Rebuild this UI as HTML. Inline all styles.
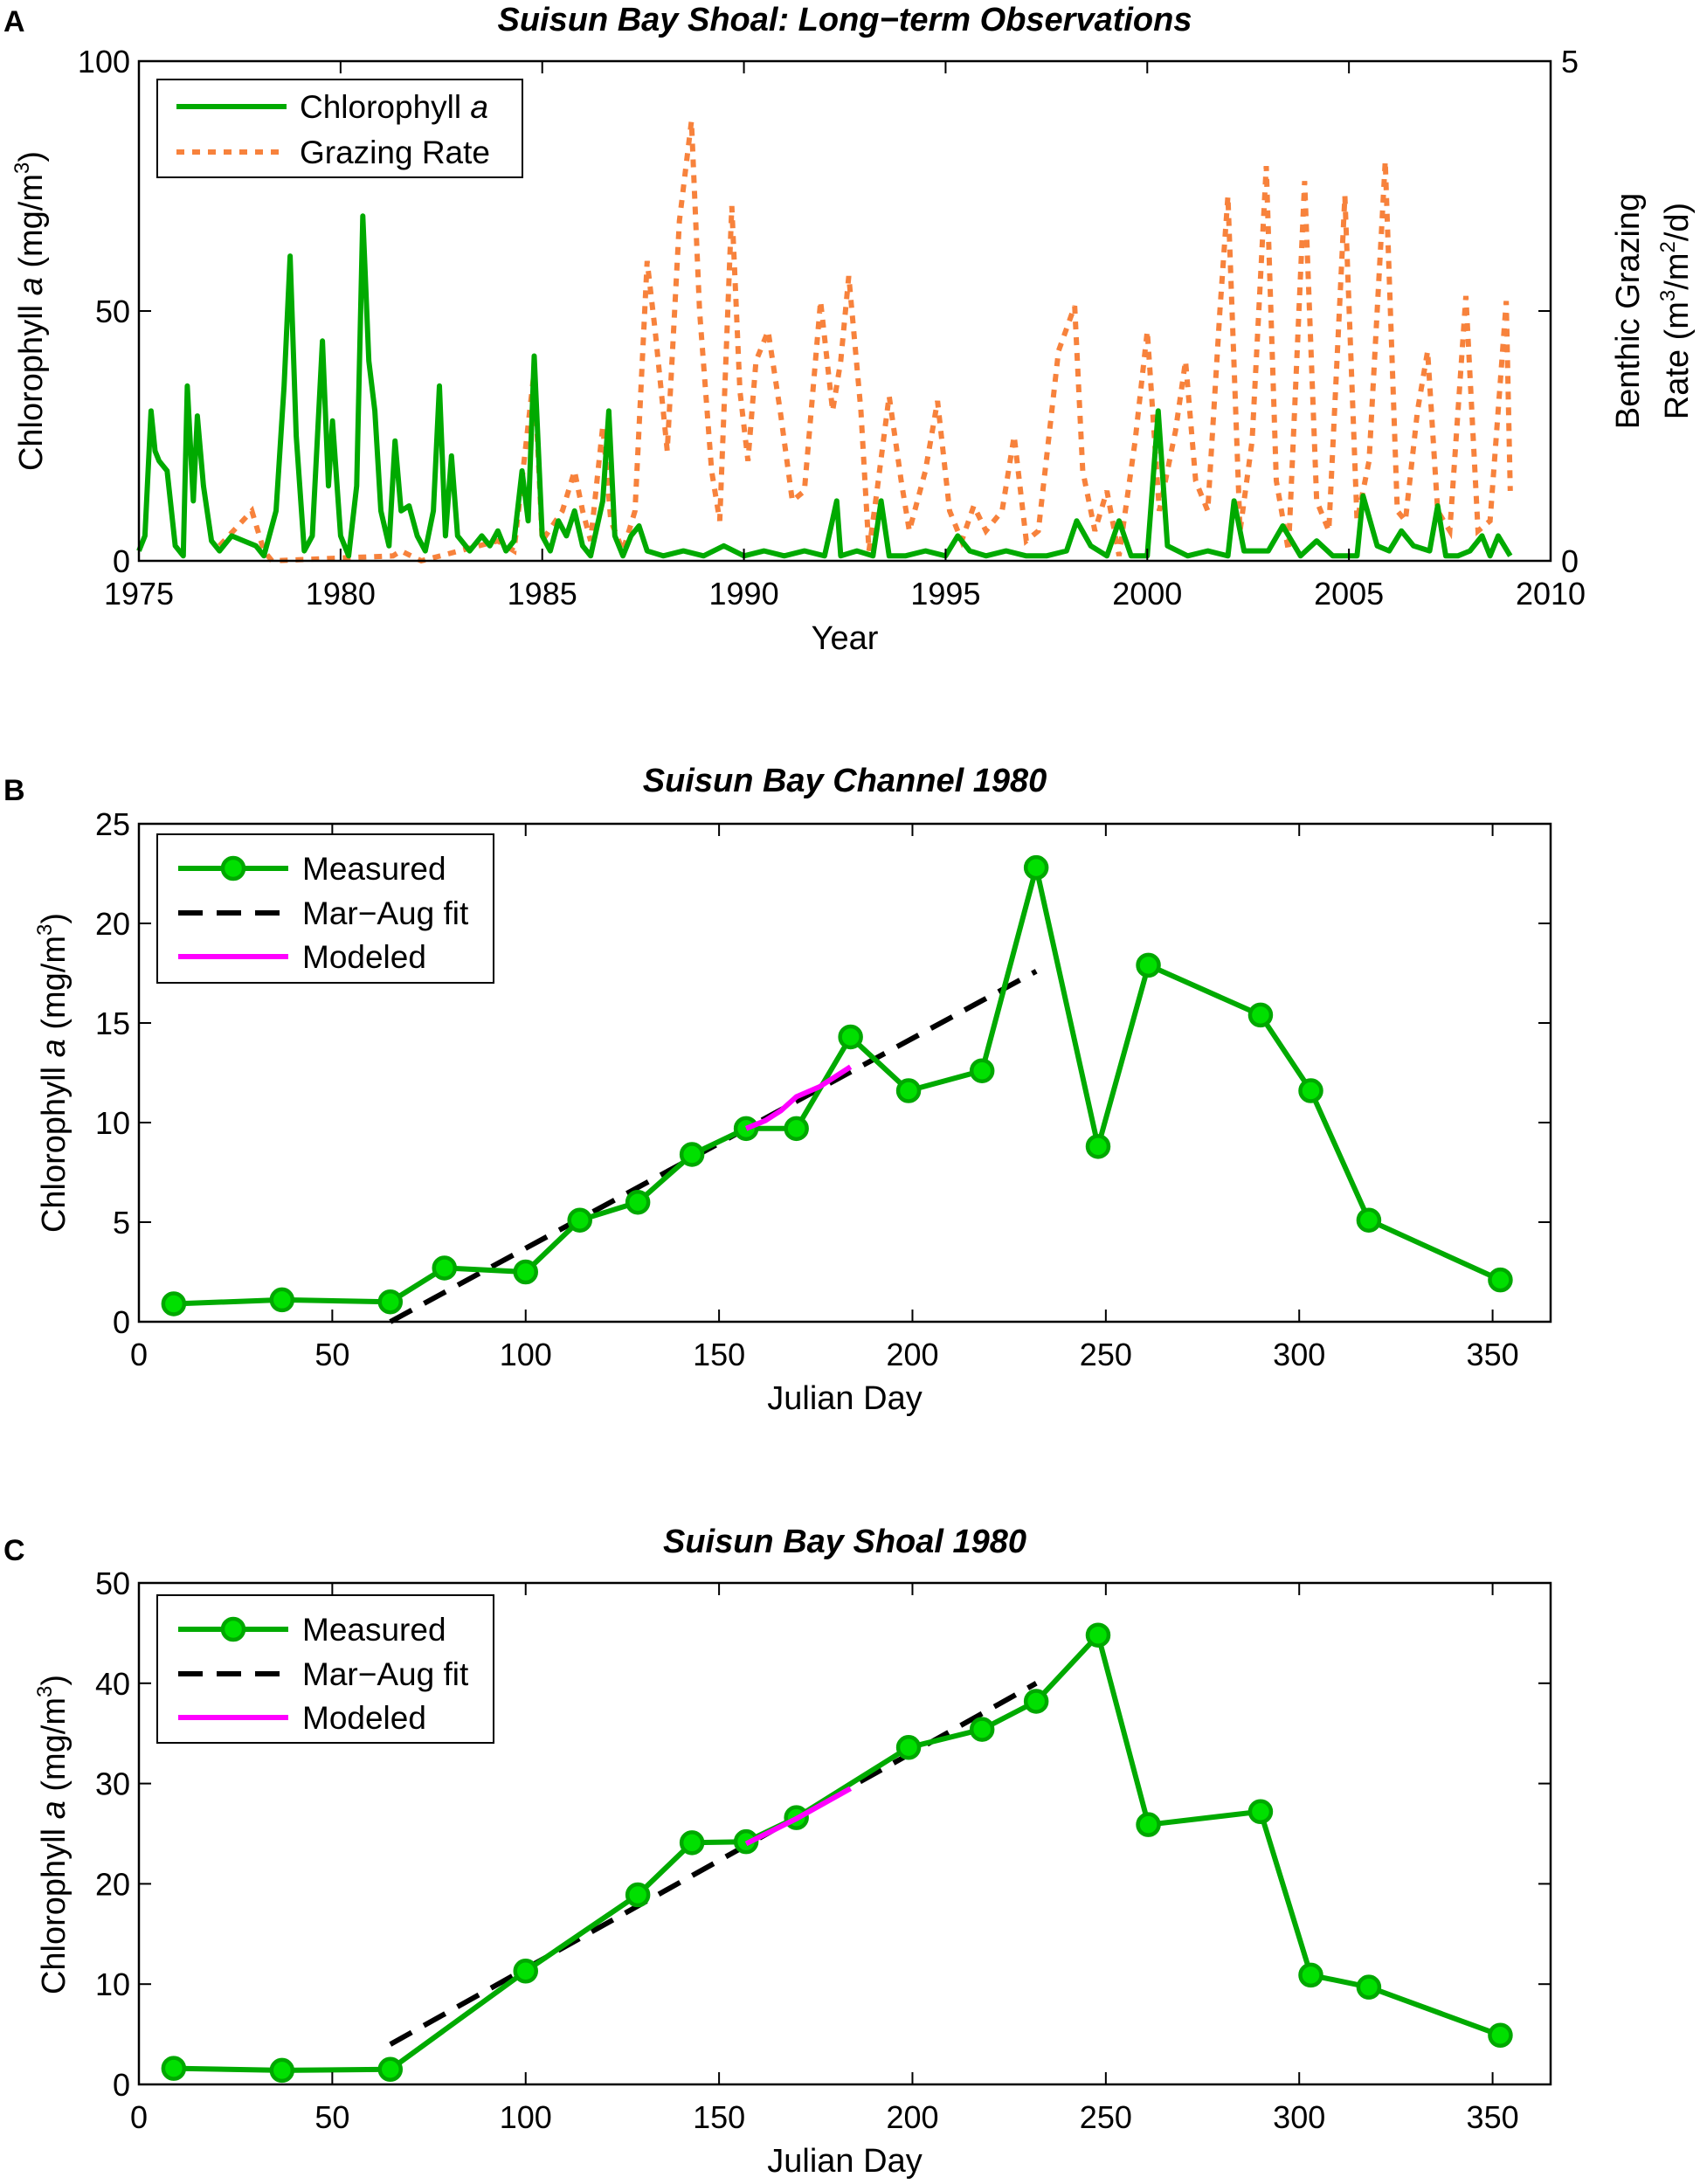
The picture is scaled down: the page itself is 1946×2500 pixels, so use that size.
<!DOCTYPE html>
<html><head><meta charset="utf-8"><style>
body{margin:0;background:#fff}
svg{display:block;font-family:"Liberation Sans",sans-serif}
</style></head><body>
<svg id="fig" width="1946" height="2500" viewBox="0 0 1946 2500"></svg>
<script>
// ---------- Panel A data ----------
const chlYears=[1975.0,1975.15,1975.3,1975.4,1975.5,1975.7,1975.9,1976.1,1976.2,1976.35,1976.45,1976.6,1976.8,1977.0,1977.3,1977.6,1977.9,1978.1,1978.4,1978.6,1978.75,1978.9,1979.1,1979.3,1979.55,1979.7,1979.8,1980.0,1980.2,1980.4,1980.55,1980.7,1980.85,1981.0,1981.2,1981.35,1981.5,1981.7,1981.9,1982.1,1982.3,1982.45,1982.6,1982.75,1982.9,1983.2,1983.5,1983.7,1983.9,1984.1,1984.3,1984.5,1984.65,1984.8,1985.0,1985.2,1985.4,1985.6,1985.8,1986.0,1986.2,1986.5,1986.65,1986.8,1987.0,1987.2,1987.4,1987.6,1988.0,1988.5,1989.0,1989.5,1990.0,1990.5,1991.0,1991.5,1992.0,1992.3,1992.4,1992.8,1993.2,1993.4,1993.6,1994.0,1994.5,1995.0,1995.3,1995.6,1996.0,1996.5,1997.0,1997.5,1998.0,1998.25,1998.6,1999.0,1999.3,1999.6,2000.0,2000.27,2000.5,2001.0,2001.5,2002.0,2002.15,2002.4,2003.0,2003.36,2003.8,2004.2,2004.6,2005.2,2005.35,2005.7,2006.0,2006.3,2006.6,2007.0,2007.2,2007.4,2007.7,2008.0,2008.3,2008.5,2008.7,2009.0];
const chlVals=[2,5,30,22,20,18,3,1,35,12,29,15,4,2,5,4,3,1,10,35,61,25,2,5,44,15,28,5,1,15,69,40,30,10,3,24,10,11,5,2,10,35,5,21,5,2,5,3,6,2,4,18,8,41,5,2,8,5,10,3,1,12,30,5,1,5,7,2,1,2,1,3,1,2,1,2,1,12,1,2,1,12,1,1,2,1,5,2,1,2,1,1,2,8,3,1,8,1,1,30,3,1,2,1,12,2,2,7,1,4,1,1,13,3,2,6,3,2,11,1,1,2,5,1,5,1];
const grzYears=[1977.0,1977.8,1978.1,1978.3,1981.3,1981.5,1982.0,1983.9,1984.3,1984.8,1985.0,1985.5,1985.8,1986.0,1986.2,1986.5,1986.7,1987.0,1987.3,1987.6,1987.8,1988.1,1988.4,1988.7,1988.9,1989.2,1989.4,1989.7,1989.9,1990.1,1990.3,1990.6,1990.9,1991.2,1991.5,1991.9,1992.2,1992.4,1992.6,1992.9,1993.1,1993.3,1993.6,1993.9,1994.1,1994.5,1994.8,1995.1,1995.4,1995.7,1996.0,1996.4,1996.7,1997.0,1997.3,1997.8,1998.2,1998.4,1998.7,1999.0,1999.3,1999.7,2000.0,2000.3,2000.7,2000.95,2001.2,2001.5,2001.8,2002.0,2002.3,2002.6,2002.95,2003.2,2003.5,2003.9,2004.2,2004.5,2004.9,2005.2,2005.5,2005.9,2006.2,2006.4,2006.7,2006.95,2007.2,2007.5,2007.9,2008.2,2008.5,2008.9,2009.0];
const grzVals=[0.15,0.5,0.1,0,0.05,0.1,0,0.2,0.1,1.9,0.2,0.5,0.9,0.5,0.2,1.35,0.4,0.1,0.5,3.0,2.3,1.1,3.4,4.4,2.5,0.9,0.4,3.55,1.7,1.0,2.0,2.3,1.5,0.6,0.7,2.6,1.5,2.0,2.85,1.5,0.1,0.7,1.65,0.8,0.3,0.9,1.6,0.5,0.2,0.55,0.3,0.5,1.25,0.2,0.3,2.1,2.55,0.9,0.3,0.7,0.05,1.2,2.3,0.5,1.3,2.0,0.8,0.5,2.5,3.65,0.3,1.2,3.95,0.8,0.1,3.8,0.6,0.3,3.65,0.4,1.0,4.0,0.5,0.4,1.5,2.1,0.5,0.3,2.65,0.3,0.4,2.6,0.7];
const aXTicks=[1975,1980,1985,1990,1995,2000,2005,2010];
const aYTicks=[0,50,100];
const aY2Labels=["0","","5"];
// ---------- Panel B data ----------
const bDays=[9,37,65,79,100,114,129,143,157,170,184,199,218,232,248,261,290,303,318,352];
const bVals=[0.9,1.1,1.0,2.7,2.5,5.1,6.0,8.4,9.7,9.7,14.3,11.6,12.6,22.8,8.8,17.9,15.4,11.6,5.1,2.1];
const bFitDays=[65,232];
const bFitVals=[0,17.6];
const bModDays=[157,162,166,170,176,184];
const bModVals=[9.7,10.1,10.6,11.3,11.8,12.8];
const bYTicks=[0,5,10,15,20,25];
// ---------- Panel C data ----------
const cDays=[9,37,65,100,129,143,157,170,199,218,232,248,261,290,303,318,352];
const cVals=[1.6,1.4,1.5,11.3,18.9,24.1,24.2,26.6,33.6,35.4,38.2,44.8,25.9,27.2,10.9,9.7,4.9];
const cFitDays=[65,232];
const cFitVals=[4,40];
const cModDays=[157,170,184];
const cModVals=[24,26.5,29.5];
const cYTicks=[0,10,20,30,40,50];
const dayTicks=[0,50,100,150,200,250,300,350];

const NS="http://www.w3.org/2000/svg";
const svg=document.getElementById('fig');
function mk(tag,attrs,parent,text){const e=document.createElementNS(NS,tag);for(const k in attrs)e.setAttribute(k,attrs[k]);if(text!==undefined)e.textContent=text;(parent||svg).appendChild(e);return e;}
const L=159,R=1775;
function scale(d0,d1,r0,r1){return v=>r0+(v-d0)/(d1-d0)*(r1-r0);}

function axesBox(g,top,bot,name){
  const r=mk('rect',{x:L,y:top,width:R-L,height:bot-top,fill:'none',stroke:'#000','stroke-width':2.5},g);
  
  
}
function xTicks(g,ticks,xs,top,bot,name){
  const gg=mk('g',{},g);
  
  
  ticks.forEach(t=>{const x=xs(t);
    mk('line',{x1:x,x2:x,y1:bot,y2:bot-14,stroke:'#000','stroke-width':2},gg);
    mk('line',{x1:x,x2:x,y1:top,y2:top+14,stroke:'#000','stroke-width':2},gg);
    const tx=mk('text',{x:x,y:bot+50,'font-size':36,'text-anchor':'middle'},gg,String(t));
    
    
  });
}
function yTicks(g,ticks,ys,rightLabels,name){
  const gg=mk('g',{},g);
  
  
  ticks.forEach((t,i)=>{const y=ys(t);
    mk('line',{x1:L,x2:L+14,y1:y,y2:y,stroke:'#000','stroke-width':2},gg);
    mk('line',{x1:R,x2:R-14,y1:y,y2:y,stroke:'#000','stroke-width':2},gg);
    const tx=mk('text',{x:L-10,y:y+13,'font-size':36,'text-anchor':'end'},gg,String(t));
    
    
    if(rightLabels&&rightLabels[i]){
      const t2=mk('text',{x:R+12,y:y+13,'font-size':36,'text-anchor':'start'},gg,rightLabels[i]);
      
      
    }
  });
}
function pathD(xsArr,ysArr,xs,ys){return xsArr.map((v,i)=>(i?'L':'M')+xs(v).toFixed(1)+','+ys(ysArr[i]).toFixed(1)).join(' ');}

// ===== Panel A =====
(function(){
  const top=70,bot=642;
  const g=mk('g',{});
  
  
  const xs=scale(1975,2010,L,R), ys=scale(0,100,bot,top), ys2=scale(0,5,bot,top);
  const gp=mk('path',{d:pathD(grzYears,grzVals,xs,ys2),fill:'none',stroke:'#f7823c','stroke-width':6,'stroke-dasharray':'9 9'},g);
  
  
  const cp=mk('path',{d:pathD(chlYears,chlVals,xs,ys),fill:'none',stroke:'#00aa00','stroke-width':6,'stroke-linejoin':'round'},g);
  
  
  axesBox(g,top,bot,'axes-a');
  xTicks(g,aXTicks,xs,top,bot,'x-axis-a');
  yTicks(g,aYTicks,ys,aY2Labels,'y-axis-a');
})();

// ===== Panels B & C =====
function panelBC(id,top,bot,ymax,yticks,days,vals,fd,fv,md,mv){
  const g=mk('g',{});
  
  
  const xs=scale(0,365,L,R), ys=scale(0,ymax,bot,top);
  const fit=mk('path',{d:pathD(fd,fv,xs,ys),fill:'none',stroke:'#000','stroke-width':6,'stroke-dasharray':'28 16'},g);
  
  
  const ml=mk('path',{d:pathD(days,vals,xs,ys),fill:'none',stroke:'#00aa00','stroke-width':6,'stroke-linejoin':'round'},g);
  
  
  days.forEach((d,i)=>{
    const c=mk('circle',{cx:xs(d),cy:ys(vals[i]),r:12,fill:'#00e000',stroke:'#00a800','stroke-width':4.5},g);
    
    
  });
  const mo=mk('path',{d:pathD(md,mv,xs,ys),fill:'none',stroke:'#ff00ff','stroke-width':6},g);
  
  
  axesBox(g,top,bot,'axes-'+id);
  xTicks(g,dayTicks,xs,top,bot,'x-axis-'+id);
  yTicks(g,yticks,ys,null,'y-axis-'+id);
}
panelBC('panel-b',943,1513,25,bYTicks,bDays,bVals,bFitDays,bFitVals,bModDays,bModVals);
panelBC('panel-c',1812,2386,50,cYTicks,cDays,cVals,cFitDays,cFitVals,cModDays,cModVals);
</script>
<svg width="1946" height="2500" viewBox="0 0 1946 2500" style="position:absolute;left:0;top:0" font-family="Liberation Sans, sans-serif">
  <text x="4" y="36" font-size="34" font-weight="bold">A</text>
  <text x="967" y="35" font-size="38" font-weight="bold" font-style="italic" text-anchor="middle">Suisun Bay Shoal: Long−term Observations</text>
  <text x="4" y="916" font-size="34" font-weight="bold">B</text>
  <text x="967" y="906" font-size="38" font-weight="bold" font-style="italic" text-anchor="middle">Suisun Bay Channel 1980</text>
  <text x="4" y="1786" font-size="34" font-weight="bold">C</text>
  <text x="967" y="1777" font-size="38" font-weight="bold" font-style="italic" text-anchor="middle">Suisun Bay Shoal 1980</text>
  <text x="967" y="743" font-size="38" text-anchor="middle">Year</text>
  <text x="967" y="1613" font-size="38" text-anchor="middle">Julian Day</text>
  <text x="967" y="2486" font-size="38" text-anchor="middle">Julian Day</text>
  <text transform="translate(48,356) rotate(-90)" font-size="38" text-anchor="middle">Chlorophyll <tspan font-style="italic">a</tspan> (mg/m<tspan font-size="24" dy="-15">3</tspan><tspan dy="15">)</tspan></text>
  <text transform="translate(74,1228) rotate(-90)" font-size="38" text-anchor="middle">Chlorophyll <tspan font-style="italic">a</tspan> (mg/m<tspan font-size="24" dy="-15">3</tspan><tspan dy="15">)</tspan></text>
  <text transform="translate(74,2100) rotate(-90)" font-size="38" text-anchor="middle">Chlorophyll <tspan font-style="italic">a</tspan> (mg/m<tspan font-size="24" dy="-15">3</tspan><tspan dy="15">)</tspan></text>
  <text transform="translate(1876,356) rotate(-90)" font-size="38" text-anchor="middle">Benthic Grazing</text>
  <text transform="translate(1932,356) rotate(-90)" font-size="38" text-anchor="middle">Rate (m<tspan font-size="24" dy="-15">3</tspan><tspan dy="15">/m</tspan><tspan font-size="24" dy="-15">2</tspan><tspan dy="15">/d)</tspan></text>
  <g>
    <rect x="180" y="91" width="418" height="112" fill="#fff" stroke="#000" stroke-width="2"/>
    <g>
      <line x1="202" x2="328" y1="122" y2="122" stroke="#00aa00" stroke-width="6"/>
      <text x="343" y="135" font-size="37">Chlorophyll <tspan font-style="italic">a</tspan></text>
    </g>
    <g>
      <line x1="202" x2="328" y1="174" y2="174" stroke="#f7823c" stroke-width="6" stroke-dasharray="9 9"/>
      <text x="343" y="187" font-size="37">Grazing Rate</text>
    </g>
  </g>
  <g>
    <rect x="180" y="955" width="385" height="170" fill="#fff" stroke="#000" stroke-width="2"/>
    <g>
      <line x1="204" x2="330" y1="994" y2="994" stroke="#00aa00" stroke-width="6"/>
      <circle cx="267" cy="994" r="12" fill="#00e000" stroke="#00a800" stroke-width="4.5"/>
      <text x="346" y="1007" font-size="37">Measured</text>
    </g>
    <g>
      <line x1="204" x2="330" y1="1045" y2="1045" stroke="#000" stroke-width="6" stroke-dasharray="28 16"/>
      <text x="346" y="1058" font-size="37">Mar−Aug fit</text>
    </g>
    <g>
      <line x1="204" x2="330" y1="1095" y2="1095" stroke="#ff00ff" stroke-width="6"/>
      <text x="346" y="1108" font-size="37">Modeled</text>
    </g>
  </g>
  <g>
    <rect x="180" y="1826" width="385" height="169" fill="#fff" stroke="#000" stroke-width="2"/>
    <g>
      <line x1="204" x2="330" y1="1865" y2="1865" stroke="#00aa00" stroke-width="6"/>
      <circle cx="267" cy="1865" r="12" fill="#00e000" stroke="#00a800" stroke-width="4.5"/>
      <text x="346" y="1878" font-size="37">Measured</text>
    </g>
    <g>
      <line x1="204" x2="330" y1="1916" y2="1916" stroke="#000" stroke-width="6" stroke-dasharray="28 16"/>
      <text x="346" y="1929" font-size="37">Mar−Aug fit</text>
    </g>
    <g>
      <line x1="204" x2="330" y1="1966" y2="1966" stroke="#ff00ff" stroke-width="6"/>
      <text x="346" y="1979" font-size="37">Modeled</text>
    </g>
  </g>
</svg>
</body></html>
